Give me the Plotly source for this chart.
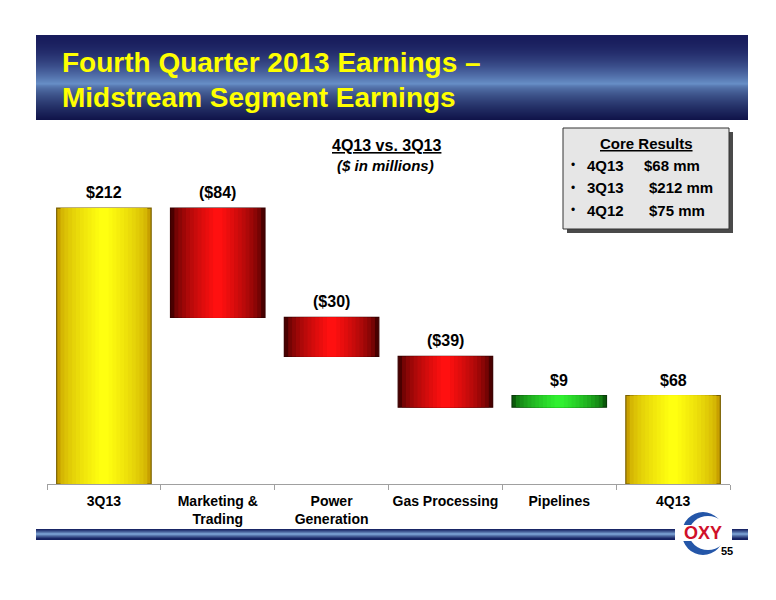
import plotly.graph_objects as go

categories = ["3Q13", "Marketing &<br>Trading", "Power<br>Generation", "Gas Processing", "Pipelines", "4Q13"]
values = [212, -84, -30, -39, 9, 68]
measures = ["absolute", "relative", "relative", "relative", "relative", "total"]
value_labels = ["$212", "($84)", "($30)", "($39)", "$9", "$68"]
core_periods = ["4Q13", "3Q13", "4Q12"]
core_values = ["$68 mm", "$212 mm", "$75 mm"]

W, H = 776, 600
ML, MR, MT, MB = 47, 46, 130, 116
PW = W - ML - MR
PH = H - MT - MB
YMAX = 272
BAR_W = 0.83
FONT = "Liberation Sans, Arial"


def px(x):
    return (x - ML) / PW


def py(y):
    return (H - MB - y) / PH


def hexrgb(h):
    h = h.lstrip("#")
    return tuple(int(h[i:i + 2], 16) for i in (0, 2, 4))


def mix(a, b, t):
    a, b = hexrgb(a), hexrgb(b)
    return "rgb(%d,%d,%d)" % tuple(round(a[i] + (b[i] - a[i]) * t) for i in range(3))


def note(x, y, text, size, color="black", xanchor="center", family=FONT):
    return dict(xref="paper", yref="paper", x=px(x), y=py(y), text=text, showarrow=False,
                xanchor=xanchor, yanchor="middle",
                font=dict(family=family, size=size, color=color))


def rect(x0, x1, y0, y1, color, layer="above", line=None):
    return dict(type="rect", xref="paper", yref="paper", x0=px(x0), x1=px(x1),
                y0=py(y1), y1=py(y0), fillcolor=color, layer=layer,
                line=line if line else dict(width=0))


fig = go.Figure()

# gradient-like bars: layered waterfall traces, narrower and brighter toward the centre
N = 12
for i in range(N):
    t = i / (N - 1)
    w = BAR_W * (1 - 0.9 * t)
    tt = t ** 0.6
    first = i == 0
    fig.add_trace(go.Waterfall(
        x=categories, y=values, measure=measures, width=w,
        decreasing=dict(marker=dict(color=mix("#4a0000", "#ff1010", tt),
                                    line=dict(color="#3a0000", width=1.2 if first else 0))),
        increasing=dict(marker=dict(color=mix("#0a5a0a", "#30f030", tt),
                                    line=dict(color="#0a3a0a", width=1.2 if first else 0))),
        totals=dict(marker=dict(color=mix("#c8a000", "#ffff10", tt),
                                line=dict(color="#7a6000", width=1.2 if first else 0))),
        connector=dict(visible=False), showlegend=False, hoverinfo="skip",
    ))

# value labels above each bar top (computed from the data)
running = 0
tops = []
for v, m in zip(values, measures):
    if m == "absolute":
        running = v
        tops.append(v)
    elif m == "total":
        tops.append(running)
    else:
        start = running
        running += v
        tops.append(max(start, running))

annotations = []
for c, t, lab in zip(categories, tops, value_labels):
    annotations.append(dict(x=c, y=t, text="<b>%s</b>" % lab, showarrow=False,
                            xanchor="center", yanchor="bottom", yshift=5,
                            font=dict(family=FONT, size=16, color="black")))

shapes = []
# title banner with vertical gradient (1px stripes, overlapping)
top, bot = 35, 120
for yy in range(top, bot):
    f = (yy - top) / (bot - top - 1)
    mid = 0.58
    if f < mid:
        col = mix("#181c5c", "#6890c8", (f / mid) ** 1.8)
    else:
        col = mix("#6890c8", "#10144a", ((f - mid) / (1 - mid)) ** 0.6)
    shapes.append(rect(36, 748, yy, min(yy + 2, bot), col, layer="below"))

# bottom bar
btop, bbot = 529, 540
for yy in range(btop, bbot):
    f = (yy - btop) / (bbot - btop - 1)
    d = min(1, abs(f - 0.45) * 2.1)
    col = mix("#86b0e0", "#142060", d ** 0.8)
    shapes.append(rect(36, 748, yy, min(yy + 2, bbot), col))

# logo
shapes.append(rect(675, 732, 526, 542, "white"))
shapes.append(dict(type="circle", xref="paper", yref="paper", x0=px(682), x1=px(724),
                   y0=py(555), y1=py(512), fillcolor="#2456a8", line=dict(width=0)))
shapes.append(dict(type="circle", xref="paper", yref="paper", x0=px(689), x1=px(727),
                   y0=py(550), y1=py(516), fillcolor="white", line=dict(width=0)))
shapes.append(rect(677, 730, 525, 541, "white"))
annotations.append(note(703, 533, "<b>OXY</b>", 18, "#d0102a", family="Liberation Sans"))
annotations.append(note(727, 551, "<b>55</b>", 11))

# core results box
shapes.append(rect(567, 733, 132, 233, "#4a4a4a"))
shapes.append(rect(563, 729, 128, 229, "#e6e6e6", line=dict(color="#333333", width=1)))
annotations.append(note(646, 143, "<b><u>Core Results</u></b>", 15))
for j, (p, v) in enumerate(zip(core_periods, core_values)):
    yy = 165 + j * 22.5
    annotations.append(note(569, yy, "•", 12, xanchor="left"))
    annotations.append(note(585, yy, "<b>%s</b>" % p, 15, xanchor="left"))
    annotations.append(note(642 if j == 0 else 647, yy, "<b>%s</b>" % v, 15, xanchor="left"))

# titles
annotations.append(note(60, 62, "<b>Fourth Quarter 2013 Earnings –</b>", 28, "#ffff00", xanchor="left"))
annotations.append(note(60, 98, "<b>Midstream Segment Earnings</b>", 28, "#ffff00", xanchor="left"))
annotations.append(note(387, 145, "<b><u>4Q13 vs. 3Q13</u></b>", 16))
annotations.append(note(385, 165, "<b><i>($ in millions)</i></b>", 15))

fig.update_layout(
    width=W, height=H, margin=dict(l=ML, r=MR, t=MT, b=MB),
    paper_bgcolor="white", plot_bgcolor="white",
    waterfallmode="overlay", showlegend=False,
    xaxis=dict(showline=True, linecolor="#a0a0a0", linewidth=1, ticks="outside",
               tickson="boundaries", ticklen=5, tickcolor="#a0a0a0", showgrid=False,
               tickangle=0, automargin=False, ticklabelstandoff=4,
               tickfont=dict(family=FONT, size=14, color="black", weight="bold"),
               fixedrange=True),
    yaxis=dict(visible=False, range=[0, YMAX], fixedrange=True),
    annotations=annotations, shapes=shapes,
)

fig.write_html("out.html", config={"displayModeBar": False},
               post_script="document.body.style.margin='0';")
